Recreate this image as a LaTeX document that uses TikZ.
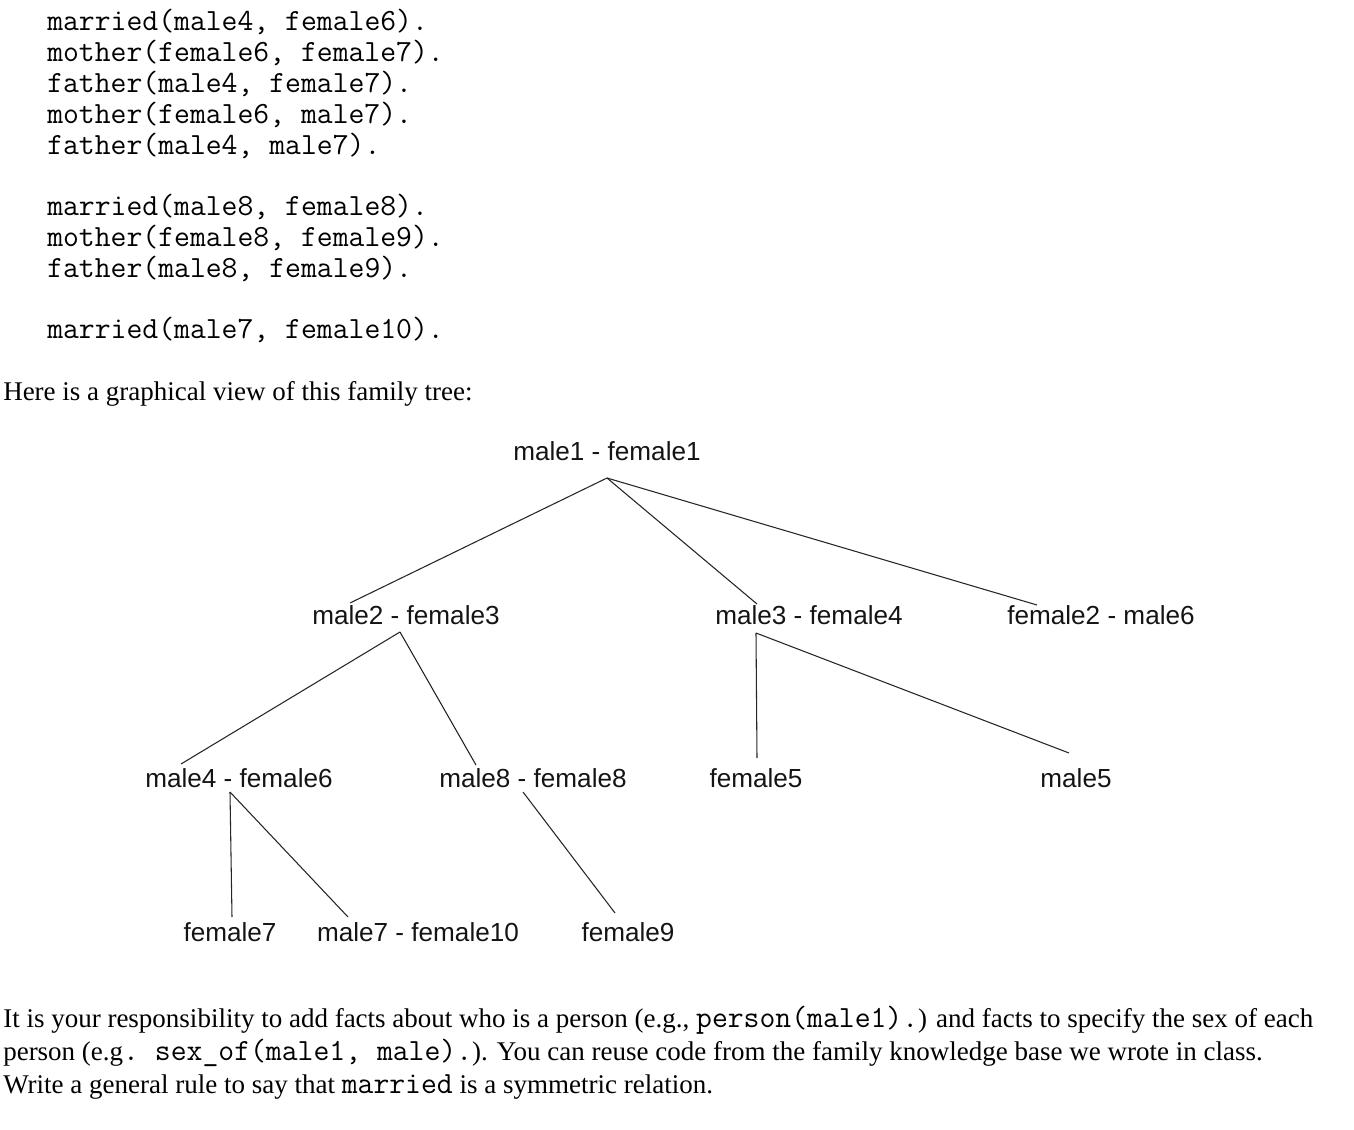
\documentclass[tikz,border=0pt]{standalone}
\usepackage{fontspec}
\setmainfont{Liberation Serif}
\setmonofont{Latin Modern Mono}
\newfontfamily\arialf{Liberation Sans}
\newcommand{\mono}[1]{{\ttfamily\fontsize{23.1}{24}\selectfont #1}}
\begin{document}
\begin{tikzpicture}[x=0.75pt,y=-0.75pt,
  code/.style={anchor=base west,inner sep=0pt,font=\ttfamily\fontsize{23.1}{24}\selectfont},
  para/.style={anchor=base west,inner sep=0pt,font=\fontsize{20.25}{24}\selectfont},
  person/.style={anchor=base,inner sep=0pt,text=black!92,font=\arialf\fontsize{19.6}{23}\selectfont},
  link/.style={draw=black!85,line width=0.8pt}]
\useasboundingbox (0,0) rectangle (1354,1130);
% code lines
\node[code] (c1) at (47,31) {married(male4, female6).};
\node[code] (c2) at (47,62) {mother(female6, female7).};
\node[code] (c3) at (47,93) {father(male4, female7).};
\node[code] (c4) at (47,124) {mother(female6, male7).};
\node[code] (c5) at (47,155) {father(male4, male7).};
\node[code] (c6) at (47,216) {married(male8, female8).};
\node[code] (c7) at (47,247) {mother(female8, female9).};
\node[code] (c8) at (47,278) {father(male8, female9).};
\node[code] (c9) at (47,339) {married(male7, female10).};
\node[para] (intro) at (3,401) {Here is a graphical view of this family tree:};
% tree labels
\node[person] (mf1) at (607,461) {male1 - female1};
\node[person] (mf3) at (406,624) {male2 - female3};
\node[person] (mf4) at (809,624) {male3 - female4};
\node[person] (fm6) at (1101,624) {female2 - male6};
\node[person] (mf6) at (239,787) {male4 - female6};
\node[person] (mf8) at (533,787) {male8 - female8};
\node[person] (f5) at (756,787) {female5};
\node[person] (m5) at (1076,787) {male5};
\node[person] (f7) at (230,941) {female7};
\node[person] (mf10) at (418,941) {male7 - female10};
\node[person] (f9) at (628,941) {female9};
% connector points
\coordinate (mf1b) at (607,478);
\coordinate (mf3t) at (350,603);
\coordinate (mf4t) at (757,604);
\coordinate (fm6t) at (1037,605);
\coordinate (mf3b) at (400,632);
\coordinate (mf6t) at (181,764);
\coordinate (mf8t) at (476,765);
\coordinate (mf4b) at (756,633);
\coordinate (f5t) at (757,758);
\coordinate (m5t) at (1069,753);
\coordinate (mf6b) at (230,792);
\coordinate (f7t) at (232,917);
\coordinate (mf10t) at (348,917);
\coordinate (mf8b) at (523,792);
\coordinate (f9t) at (615,913);
% connectors
\draw[link] (mf1b) -- (mf3t);
\draw[link] (mf1b) -- (mf4t);
\draw[link] (mf1b) -- (fm6t);
\draw[link] (mf3b) -- (mf6t);
\draw[link] (mf3b) -- (mf8t);
\draw[link] (mf4b) -- (f5t);
\draw[link] (mf4b) -- (m5t);
\draw[link] (mf6b) -- (f7t);
\draw[link] (mf6b) -- (mf10t);
\draw[link] (mf8b) -- (f9t);
% closing paragraph
\node[para] (p1) at (3,1027) {It is your responsibility to add facts about who is a person (e.g., \mono{person(male1).}) and facts to specify the sex of each};
\node[para] (p2) at (3,1060) {person (e.g\mono{.~sex\_of(male1,~male).}). You can reuse code from the family knowledge base we wrote in class.};
\node[para] (p3) at (3,1093) {Write a general rule to say that \mono{married} is a symmetric relation.};
\end{tikzpicture}
\end{document}
